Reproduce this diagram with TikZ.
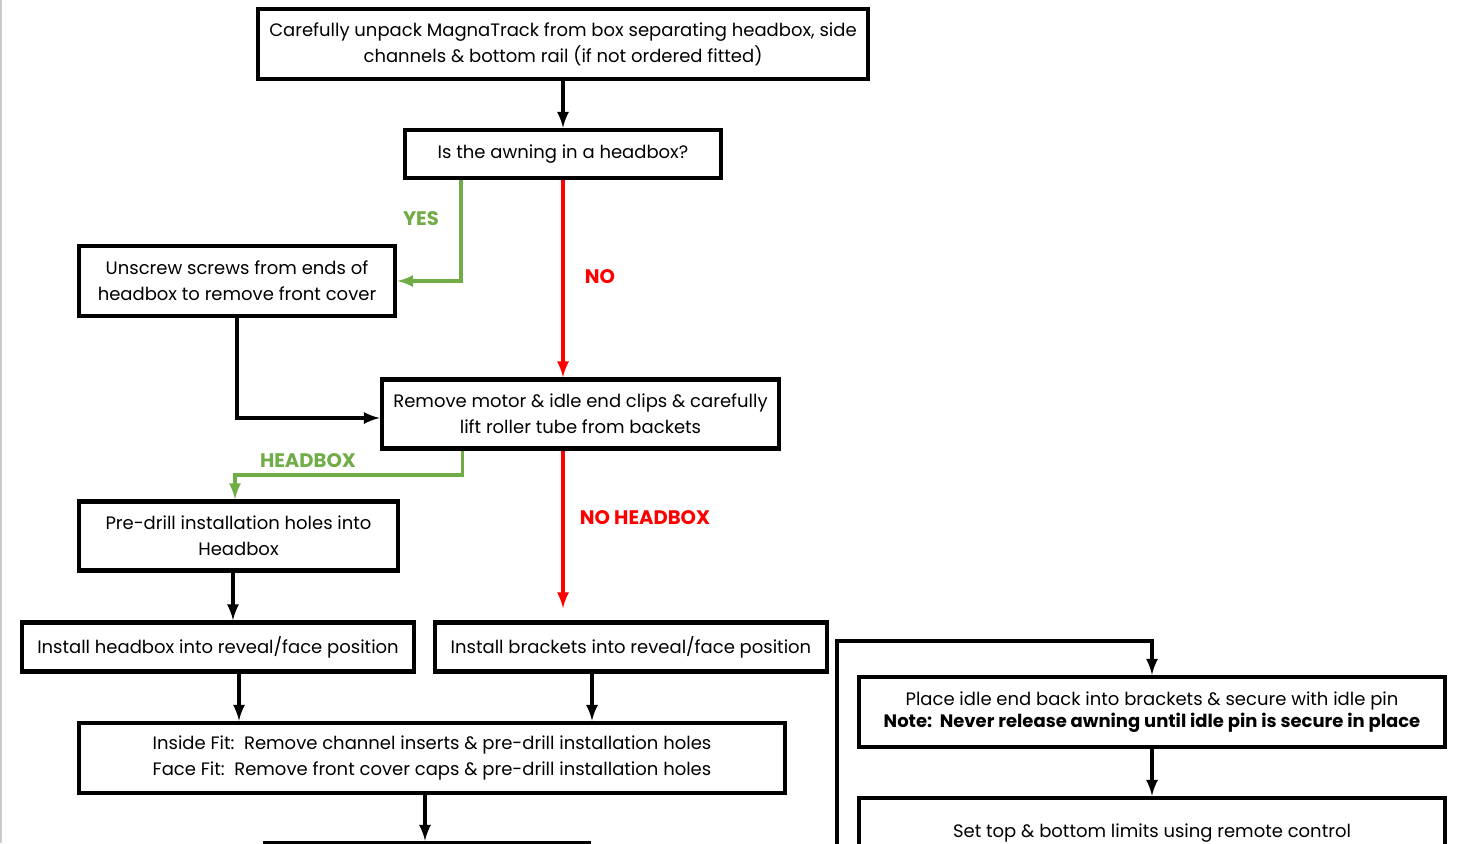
\documentclass[tikz,border=0pt]{standalone}
\usepackage{fontspec}
\setmainfont{Poppins}
\usepackage{pgf,tikz}
\usetikzlibrary{arrows,calc}
\definecolor{yesgreen}{RGB}{112,173,71}
\definecolor{nored}{RGB}{255,0,0}

\begin{document}
\begin{tikzpicture}[x=0.5pt,y=-0.5pt,>=latex,
  stepbox/.style={draw,line width=2.3pt,align=center,inner sep=0pt,font=\fontsize{9}{13}\selectfont},
  arr/.style={->,line width=1.7pt},
  lbl/.style={font=\fontsize{9.8}{11}\selectfont\bfseries}]
\useasboundingbox (0,0) rectangle (1480,843);
\clip (0,0) rectangle (1480,843);
\fill[white] (0,0) rectangle (1480,843);
\draw[gray!40,line width=1pt] (1,0) -- (1,843);

% boxes
\node[stepbox,minimum width=305pt,minimum height=35pt] (unpack) at (563,44)
  {Carefully unpack MagnaTrack from box separating headbox, side\\channels \& bottom rail (if not ordered fitted)};
\node[stepbox,minimum width=158pt,minimum height=24pt] (question) at (563,154) {Is the awning in a headbox?};
\node[stepbox,minimum width=158pt,minimum height=35pt] (unscrew) at (237,281)
  {Unscrew screws from ends of\\headbox to remove front cover};
\node[stepbox,minimum width=198.5pt,minimum height=34.5pt] (lift) at (580.5,414)
  {Remove motor \& idle end clips \& carefully\\lift roller tube from backets};
\node[stepbox,minimum width=159.5pt,minimum height=34.5pt] (predrill) at (238.5,536)
  {Pre-drill installation holes into\\Headbox};
\node[stepbox,minimum width=196pt,minimum height=24.5pt] (insthead) at (218,647)
  {Install headbox into reveal/face position};
\node[stepbox,minimum width=196pt,minimum height=24.5pt] (instbrack) at (631,647)
  {Install brackets into reveal/face position};
\node[stepbox,minimum width=353pt,minimum height=35pt] (fitholes) at (432,758)
  {Inside Fit:\ \ Remove channel inserts \& pre-drill installation holes\\Face Fit:\ \ Remove front cover caps \& pre-drill installation holes};
\node[stepbox,minimum width=293pt,minimum height=35pt,font=\fontsize{9}{11}\selectfont] (idlepin) at (1152,712)
  {Place idle end back into brackets \& secure with idle pin\\\textbf{Note:\ \ Never release awning until idle pin is secure in place}};
\node[stepbox,minimum width=293pt,minimum height=35pt] (limits) at (1152,833)
  {Set top \& bottom limits using remote control};
\node[stepbox,minimum width=162pt,minimum height=35pt] (nextbox) at (427,878) {};

% connectors
\draw[arr] (unpack) -- (question);
\draw[arr,yesgreen] ($(question.south)+(-102,0)$) |- (unscrew.east);
\node[lbl,yesgreen] (yes) at (421,219) {YES};
\draw[arr,nored] (question.south) -- (lift.north -| question.south);
\node[lbl,nored] (no) at (600,277) {NO};
\draw[arr] (unscrew.south) |- ($(lift.west)+(0,4)$);
\draw[arr,yesgreen] ($(lift.south)+(-118,0)$) |- (235,475) -- (predrill.north -| 235,0);
\node[lbl,yesgreen] (hbox) at (308,461) {HEADBOX};
\draw[arr,nored] (lift.south -| 563,0) -- ($(instbrack.north -| 563,0)+(0,-12)$);
\node[lbl,nored] (nohbox) at (645,518) {NO HEADBOX};
\draw[arr] (predrill.south -| 233,0) -- (insthead.north -| 233,0);
\draw[arr] (insthead.south -| 239,0) -- (fitholes.north -| 239,0);
\draw[arr] (instbrack.south -| 592,0) -- (fitholes.north -| 592,0);
\draw[arr] (fitholes.south -| 425,0) -- (nextbox.north -| 425,0);
\coordinate (loopin) at (837,900);
\coordinate (looptop) at (837,641);
\draw[arr] (loopin) -- (looptop) -| (idlepin.north);
\draw[arr] (idlepin) -- (limits);
\end{tikzpicture}
\end{document}
